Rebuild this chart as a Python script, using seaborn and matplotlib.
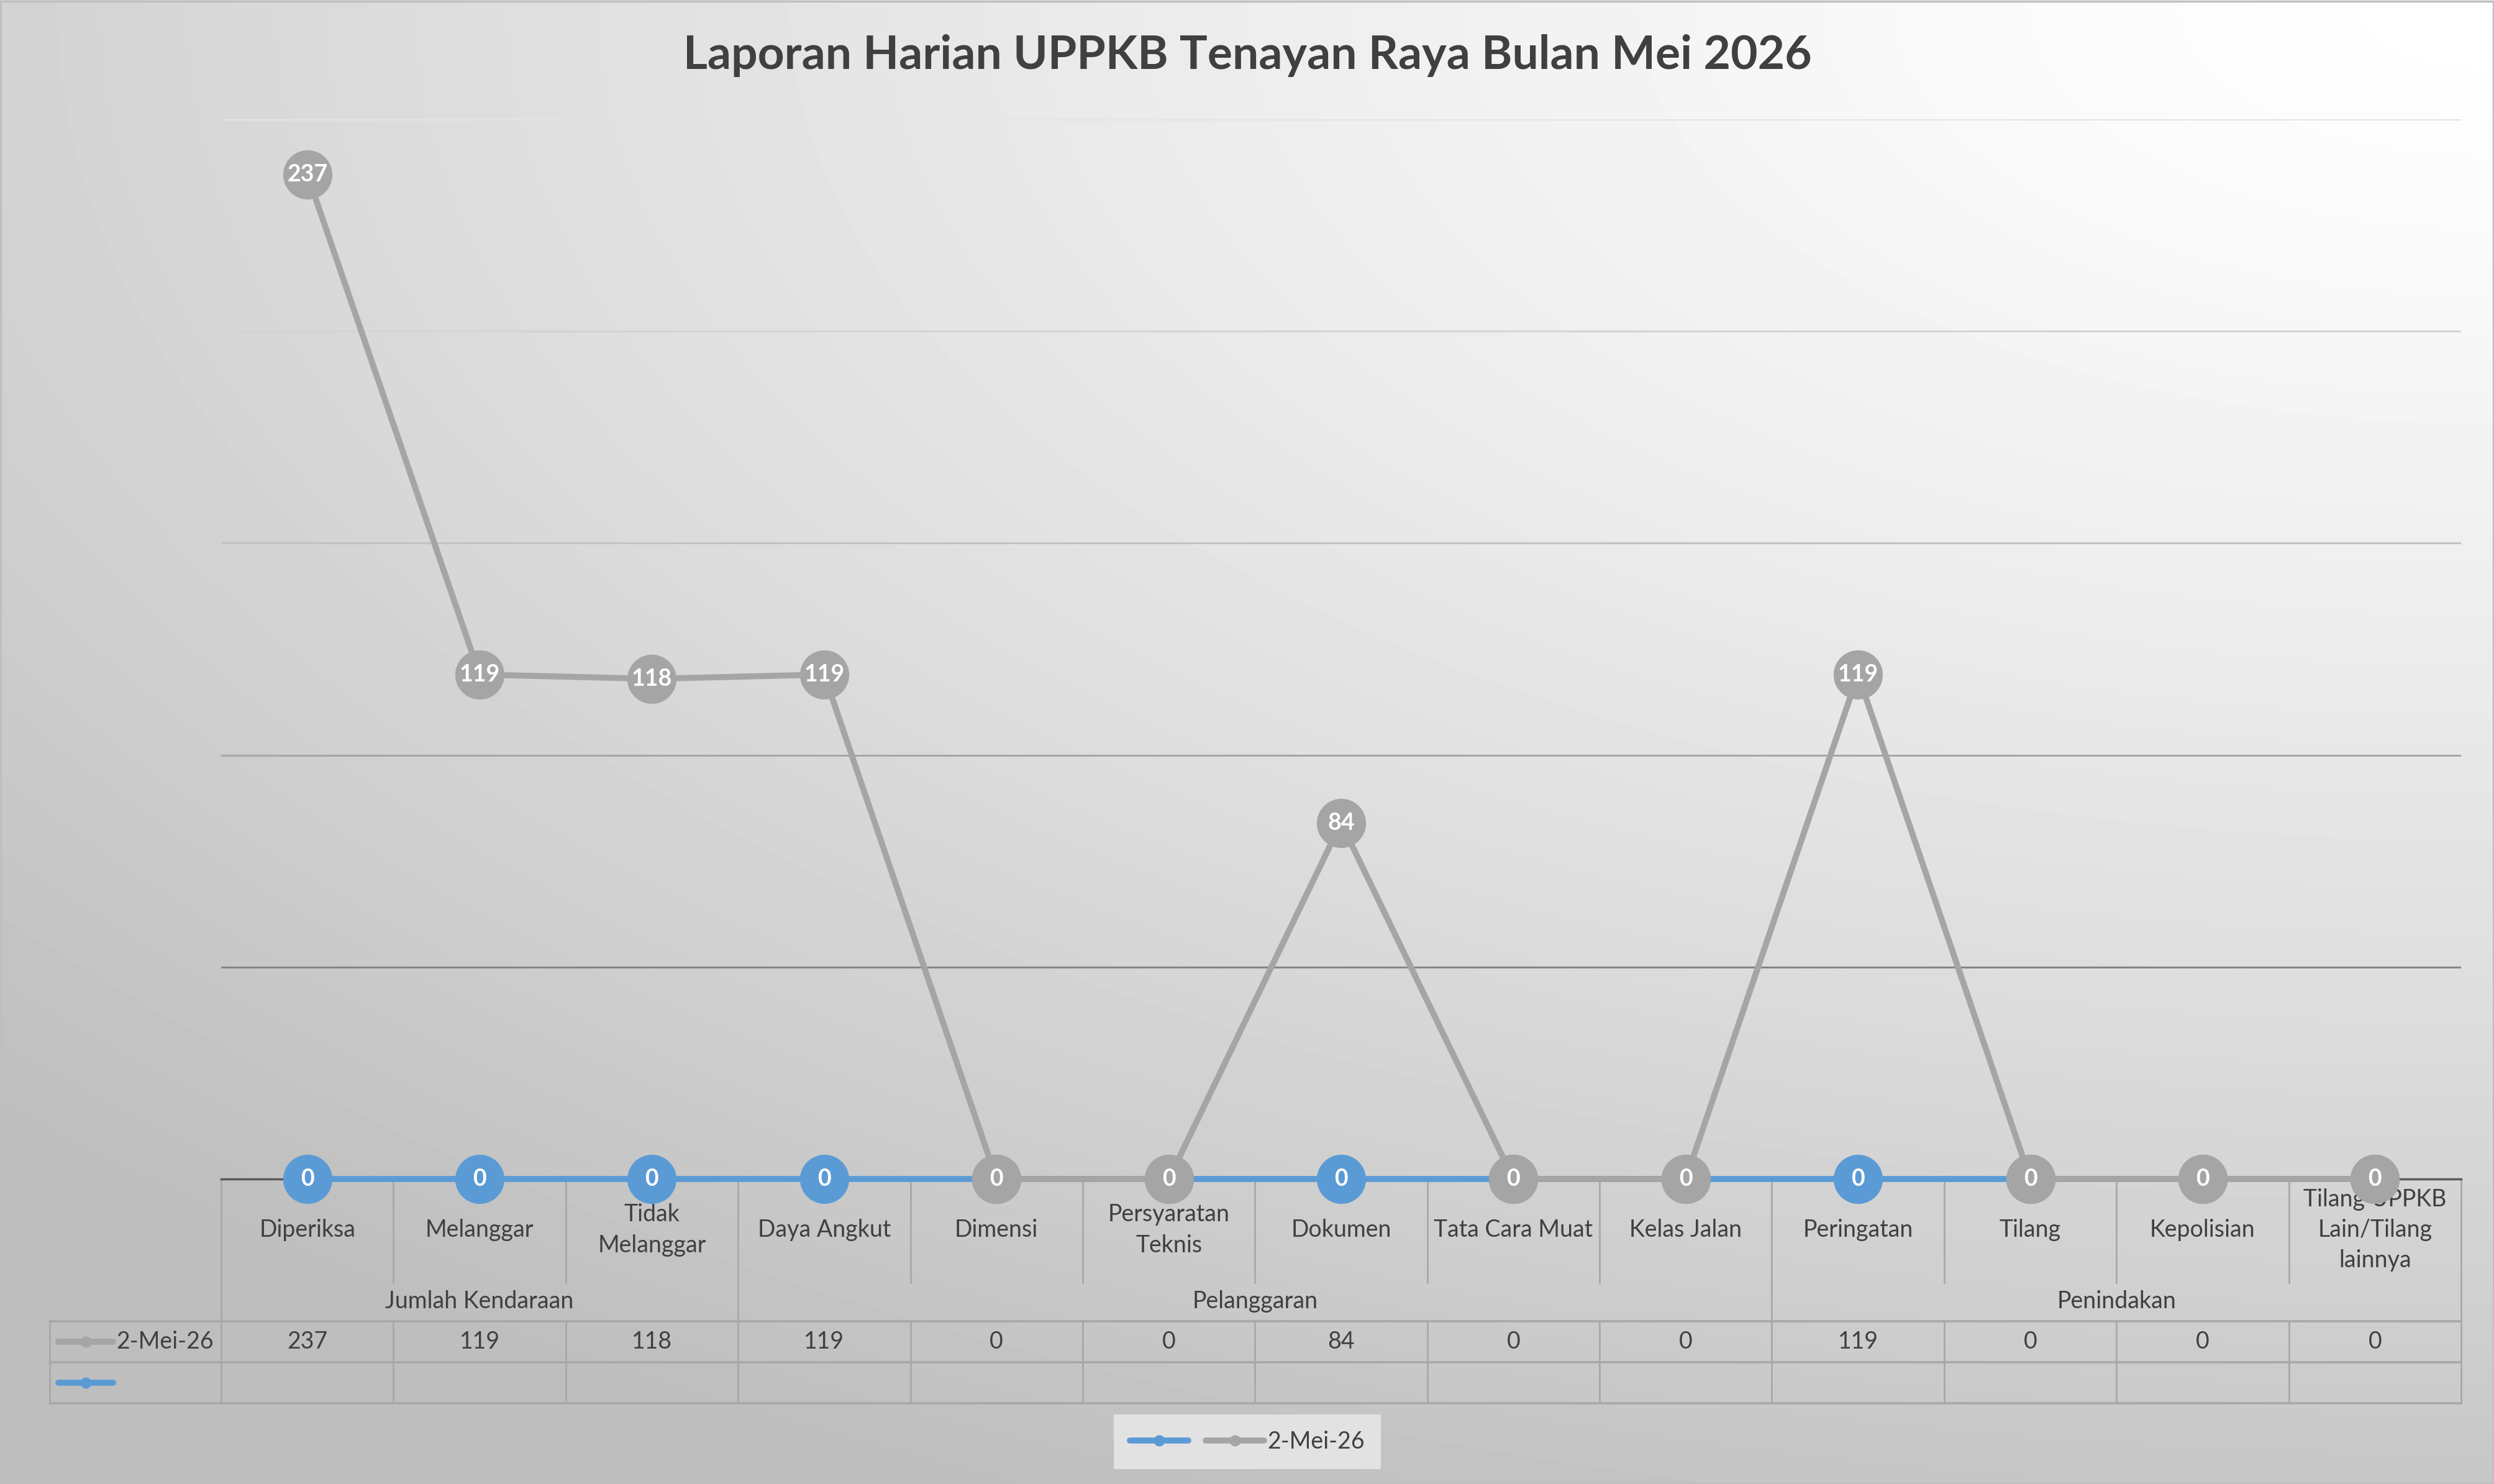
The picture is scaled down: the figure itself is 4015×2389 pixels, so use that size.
import numpy as np
import pandas as pd
import matplotlib
matplotlib.use('Agg')
import matplotlib.pyplot as plt
import matplotlib.transforms as mtrans
from matplotlib.lines import Line2D
from matplotlib.patches import Rectangle
import seaborn as sns

sns.set_style('white')
plt.rcParams['font.family'] = ['Lato', 'DejaVu Sans']

# data
title = 'Laporan Harian UPPKB Tenayan Raya Bulan Mei 2026'
categories = ['Diperiksa', 'Melanggar', 'Tidak\nMelanggar', 'Daya Angkut', 'Dimensi',
              'Persyaratan\nTeknis', 'Dokumen', 'Tata Cara Muat', 'Kelas Jalan',
              'Peringatan', 'Tilang', 'Kepolisian', 'Tilang UPPKB\nLain/Tilang\nlainnya']
groups = ['Jumlah Kendaraan', 'Pelanggaran', 'Penindakan']
group_sizes = [3, 6, 4]
series_name = '2-Mei-26'
values_2mei = [237, 119, 118, 119, 0, 0, 84, 0, 0, 119, 0, 0, 0]
values_blank = [0, 0, 0, 0, 0, 0, 0, 0, 0, 0, 0, 0, 0]
grid_values = [50, 100, 150, 200, 250]
grid_colors = ['#858585', '#a6a6a6', '#c2c2c2', '#d4d4d4', '#e4e4e4']

GRAY = '#a5a5a5'
BLUE = '#5b9bd5'
TXT = '#404040'
LINE_T = '#a8a8a8'
LW = 7

W, H = 4016, 2389
fig = plt.figure(figsize=(W / 100, H / 100), dpi=100)

# background gradient (white top right -> grey bottom left)
bg = fig.add_axes([0, 0, 1, 1], zorder=0)
u = np.linspace(0, 1, 400)[None, :]
v = np.linspace(0, 1, 240)[:, None]
t = np.clip(np.sqrt(0.55 * (1 - u) ** 2 + 0.8 * v ** 2), 0, 1) ** 1.3
shade = (255 - 65 * t) / 255.0
bg.imshow(shade, extent=(0, W, H, 0), aspect='auto', cmap='gray', vmin=0, vmax=1,
          interpolation='bilinear')
bg.set_xlim(0, W)
bg.set_ylim(H, 0)
bg.axis('off')
bg.add_patch(Rectangle((1.5, 1.5), W - 3, H - 3, fill=False, edgecolor='#bfbfbf', lw=2.5))

# plot area
x0, x1, ytop, y0 = 356, 3962, 192, 1898
ax = fig.add_axes([x0 / W, 1 - y0 / H, (x1 - x0) / W, (y0 - ytop) / H], zorder=2)
ax.set_facecolor('none')

df = pd.DataFrame({'pos': np.arange(len(categories)), 'kategori': categories,
                   'blank': values_blank, 'mei': values_2mei})

for g, c in zip(grid_values, grid_colors):
    ax.axhline(g, color=c, lw=2.2, zorder=1)

sns.lineplot(data=df, x='pos', y='blank', ax=ax, color=BLUE, lw=LW, marker='o',
             markersize=57, markeredgewidth=0, sort=False, zorder=3, clip_on=False)
sns.lineplot(data=df, x='pos', y='mei', ax=ax, color=GRAY, lw=LW, marker='o',
             markersize=57, markeredgewidth=0, sort=False, zorder=5, clip_on=False)

for i, val in enumerate(values_blank):
    ax.text(i, val, str(val), ha='center', va='center', color='white', fontsize=27,
            fontweight='bold', zorder=4, clip_on=False)
for i, val in enumerate(values_2mei):
    ax.text(i, val, str(val), ha='center', va='center', color='white', fontsize=27,
            fontweight='bold', zorder=6, clip_on=False)

ax.set_xlim(-0.5, len(categories) - 0.5)
ax.set_ylim(0, 250)
ax.set_xticks([])
ax.set_yticks([])
ax.set_xlabel('')
ax.set_ylabel('')
for s in ['top', 'right', 'left']:
    ax.spines[s].set_visible(False)
ax.spines['bottom'].set_color('#595959')
ax.spines['bottom'].set_linewidth(2.5)
ax.spines['bottom'].set_zorder(2)

fig.text(0.5, 1 - 90 / H, title, ha='center', va='center', fontsize=54,
         fontweight='bold', color=TXT)

# data table under the axis
tr = mtrans.blended_transform_factory(ax.transData, bg.transData)
n = len(categories)
y_lab, y_inner, y_grp = 1980, 2065, 2095
y_r1, y_r2, y_r3 = 2127, 2193, 2259
edges = np.arange(n + 1) - 0.5
group_edges = np.concatenate([[0], np.cumsum(group_sizes)]) - 0.5

for e in edges:
    if np.any(np.isclose(group_edges, e)):
        bg.add_line(Line2D([e, e], [y0, y_r3], transform=tr, color=LINE_T, lw=2))
    else:
        bg.add_line(Line2D([e, e], [y0, y_inner], transform=tr, color=LINE_T, lw=2))
        bg.add_line(Line2D([e, e], [y_r1, y_r3], transform=tr, color=LINE_T, lw=2))

for yy in [y_r1, y_r2, y_r3]:
    bg.add_line(Line2D([80, x1], [yy, yy], color=LINE_T, lw=2.6))
bg.add_line(Line2D([80, 80], [y_r1, y_r3], color=LINE_T, lw=2))

for i, cat in enumerate(categories):
    bg.text(i, y_lab, cat, transform=tr, ha='center', va='center', fontsize=27,
            color=TXT, linespacing=1.45, zorder=1)
    bg.text(i, (y_r1 + y_r2) / 2, str(values_2mei[i]), transform=tr, ha='center',
            va='center', fontsize=27, color=TXT)

start = 0
for gname, size in zip(groups, group_sizes):
    bg.text(start + (size - 1) / 2, y_grp, gname, transform=tr, ha='center', va='center',
            fontsize=27, color=TXT)
    start += size

# legend keys inside the table
yk1 = (y_r1 + y_r2) / 2
yk2 = (y_r2 + y_r3) / 2
bg.add_line(Line2D([94, 182], [yk1, yk1], color=GRAY, lw=LW, solid_capstyle='round'))
bg.plot([138], [yk1], 'o', color=GRAY, ms=13, mew=0)
bg.text(344, yk1, series_name, ha='right', va='center', fontsize=27, color=TXT)
bg.add_line(Line2D([94, 182], [yk2, yk2], color=BLUE, lw=LW, solid_capstyle='round'))
bg.plot([138], [yk2], 'o', color=BLUE, ms=13, mew=0)

# legend
handles = [Line2D([], [], color=BLUE, lw=LW, marker='o', ms=13, mew=0, solid_capstyle='round'),
           Line2D([], [], color=GRAY, lw=LW, marker='o', ms=13, mew=0, solid_capstyle='round')]
leg = fig.legend(handles, ['', series_name], loc='center', ncol=2,
                 bbox_to_anchor=(2008 / W, 1 - 2321 / H), fontsize=27, frameon=True,
                 facecolor='#e2e2e2', edgecolor='none', fancybox=False, framealpha=1,
                 handlelength=2.5, handletextpad=0.15, columnspacing=0.6,
                 borderpad=0.7, labelcolor=TXT)

fig.savefig('out.png', dpi=100)
